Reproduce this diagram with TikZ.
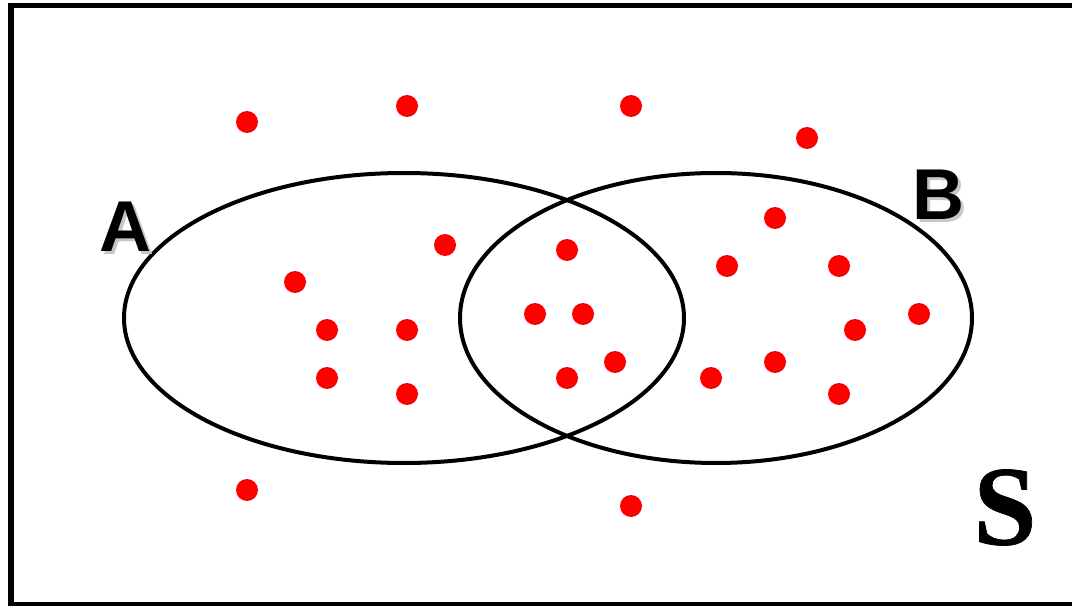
\documentclass[tikz,border=0pt]{standalone}
\usepackage{fontspec}
\newfontfamily\labelsans{Liberation Sans}
\newfontfamily\labelserif{Liberation Serif}[UprightFont={* Bold}, FakeBold=0.6]
\begin{document}
\begin{tikzpicture}[x=0.75pt,y=-0.75pt,
  setline/.style={line width=3pt},
  frame/.style={line width=4pt},
  pt/.style={fill=red},
  setlabel/.style={font=\labelsans\bfseries\fontsize{54}{54}\selectfont, inner sep=0pt},
  shadowlabel/.style={setlabel, text=black!22},
  spacelabel/.style={font=\labelserif\fontsize{85}{85}\selectfont, inner sep=0pt}]
\useasboundingbox (0,0) rectangle (1072,606);
\fill[white] (0,0) rectangle (1072,606);
% sample space frame
\draw[frame] (1090,5.5) -- (11,5.5) -- (11,604.5) -- (1090,604.5);
% sets
\draw[setline] (404,318) ellipse [x radius=280, y radius=145];
\draw[setline] (716,318) ellipse [x radius=256, y radius=145];
% labels (with soft drop shadow)
\node[shadowlabel] at (128,229.5) {A};
\node[setlabel] (labA) at (125,226.5) {A};
\node[shadowlabel] at (941.5,198) {B};
\node[setlabel] (labB) at (938.5,195) {B};
\node[spacelabel] (labS) at (1005,507.5) {S};
% outcomes
\foreach \x/\y in {247/122, 407/106, 631/106, 807/138,
  775/218, 445/245, 567/250, 727/266, 839/266,
  295/282, 535/314, 583/314, 919/314,
  327/330, 407/330, 855/330,
  615/362, 775/362,
  327/378, 567/378, 711/378,
  407/394, 839/394,
  247/490, 631/506}
  \fill[pt] (\x,\y) circle [radius=11];
\end{tikzpicture}
\end{document}
